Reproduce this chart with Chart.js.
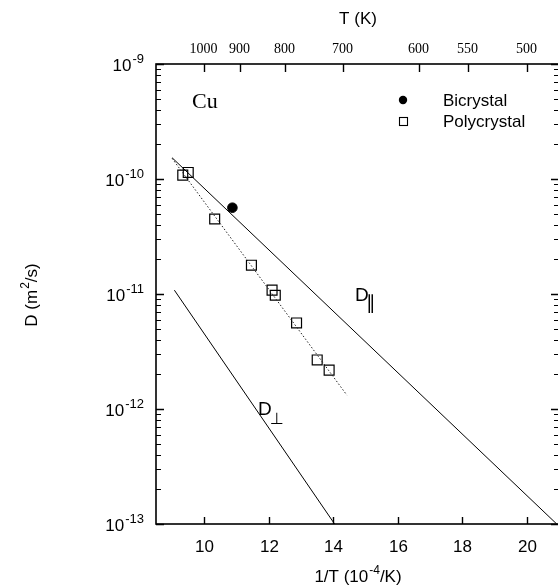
<!DOCTYPE html>
<html>
<head>
<meta charset="utf-8">
<script src="https://cdn.jsdelivr.net/npm/chart.js@4/dist/chart.umd.min.js"></script>
<style>
  html, body { margin: 0; padding: 0; background: #fff; overflow: hidden; }
  canvas { display: block; }
</style>
</head>
<body>
<canvas id="chart" width="570" height="588"></canvas>
<script>
// --- Data (1/T in 10^-4/K, D in m^2/s) ---
const polyX = [9.33, 9.50, 10.32, 11.46, 12.10, 12.20, 12.86, 13.50, 13.87];
const polyD = [1.08e-10, 1.14e-10, 4.49e-11, 1.78e-11, 1.08e-11, 9.75e-12, 5.6e-12, 2.67e-12, 2.18e-12];
const biX = [10.87];
const biD = [5.63e-11];
const fitX = [9.0, 14.42];
const fitD = [1.51e-10, 1.32e-12];
const dParX = [9.0, 20.93];
const dParD = [1.53e-10, 1.0e-13];
const dPerpX = [9.07, 14.04];
const dPerpD = [1.08e-11, 1.0e-13];

const bottomTicks = [10, 12, 14, 16, 18, 20];
const topTicksT = [1000, 900, 800, 700, 600, 550, 500];
const decades = [-13, -12, -11, -10, -9];

const SANS = '"Liberation Sans", Arial, Helvetica, sans-serif';
const SERIF = '"Liberation Serif", "Times New Roman", serif';

function pts(xs, ys) {
    return xs.map((x, i) => ({ x: x, y: ys[i] }));
}

// draws "base" followed by a raised superscript, starting at x
function drawSup(ctx, base, sup, x, y, size, supSize, rise) {
    ctx.font = size + 'px ' + SANS;
    ctx.fillText(base, x, y);
    const w = ctx.measureText(base).width;
    ctx.font = supSize + 'px ' + SANS;
    ctx.fillText(sup, x + w + 1, y - rise);
    return w + 1 + ctx.measureText(sup).width;
}

const framePlugin = {
    id: 'frame',
    afterDraw(chart) {
        const ctx = chart.ctx;
        const xs = chart.scales.x;
        const ys = chart.scales.y;
        const a = chart.chartArea;
        ctx.save();
        ctx.strokeStyle = '#000';
        ctx.fillStyle = '#000';

        // frame
        ctx.lineWidth = 1.6;
        ctx.strokeRect(a.left, a.top, a.right - a.left, a.bottom - a.top);

        // bottom ticks + labels
        ctx.lineWidth = 1.4;
        ctx.textAlign = 'center';
        ctx.textBaseline = 'alphabetic';
        ctx.font = '17px ' + SANS;
        bottomTicks.forEach(v => {
            const px = Math.round(xs.getPixelForValue(v)) + 0.5;
            ctx.beginPath();
            ctx.moveTo(px, a.bottom);
            ctx.lineTo(px, a.bottom - 7);
            ctx.stroke();
            ctx.fillText(String(v), px, 552);
        });

        // top ticks (temperature) + labels
        ctx.font = '14px ' + SERIF;
        topTicksT.forEach(T => {
            const px = Math.round(xs.getPixelForValue(1e4 / T)) + 0.5;
            ctx.beginPath();
            ctx.moveTo(px, a.top);
            ctx.lineTo(px, a.top + 8);
            ctx.stroke();
            ctx.fillText(String(T), px - 1, 53);
        });

        // y ticks (major + minor), both sides
        decades.forEach(n => {
            for (let k = 1; k <= 9; k++) {
                if (n === -9 && k > 1) break;
                const py = Math.round(ys.getPixelForValue(k * Math.pow(10, n))) + 0.5;
                const len = k === 1 ? 8 : 5;
                ctx.lineWidth = k === 1 ? 1.4 : 1.1;
                ctx.beginPath();
                ctx.moveTo(a.left, py);
                ctx.lineTo(a.left + len, py);
                ctx.moveTo(a.right, py);
                ctx.lineTo(a.right - len, py);
                ctx.stroke();
            }
            // label 10^n, right-aligned
            const py = ys.getPixelForValue(Math.pow(10, n));
            ctx.textAlign = 'left';
            ctx.font = '13px ' + SANS;
            const supW = ctx.measureText(String(n)).width;
            ctx.font = '17px ' + SANS;
            const baseW = ctx.measureText('10').width;
            const x0 = 144 - supW - baseW - 1;
            drawSup(ctx, '10', String(n), x0, py + 7, 17, 13, 8);
        });

        // axis titles
        ctx.textAlign = 'left';
        ctx.font = '17px ' + SANS;
        const tkW = ctx.measureText('T (K)').width;
        ctx.fillText('T (K)', 358 - tkW / 2, 24);

        // bottom title: 1/T (10^-4/K)
        ctx.font = '17px ' + SANS;
        const p1 = '1/T (10', p2 = '/K)';
        const w1 = ctx.measureText(p1).width, w3 = ctx.measureText(p2).width;
        ctx.font = '12px ' + SANS;
        const w2 = ctx.measureText('-4').width;
        let bx = 358 - (w1 + w2 + w3 + 1) / 2;
        bx += drawSup(ctx, p1, '-4', bx, 582, 17, 12, 8);
        ctx.font = '17px ' + SANS;
        ctx.fillText(p2, bx, 582);

        // left title rotated: D (m^2/s)
        ctx.save();
        ctx.translate(37, 295);
        ctx.rotate(-Math.PI / 2);
        ctx.font = '17px ' + SANS;
        const q1 = 'D (m', q3 = '/s)';
        const v1 = ctx.measureText(q1).width, v3 = ctx.measureText(q3).width;
        ctx.font = '12px ' + SANS;
        const v2 = ctx.measureText('2').width;
        let lx = -(v1 + v2 + v3 + 1) / 2;
        lx += drawSup(ctx, q1, '2', lx, 0, 17, 12, 8);
        ctx.font = '17px ' + SANS;
        ctx.fillText(q3, lx, 0);
        ctx.restore();

        // Cu label
        ctx.font = '22px ' + SERIF;
        ctx.fillText('Cu', 192, 108);

        // D parallel / D perpendicular labels
        ctx.font = '19px ' + SANS;
        ctx.fillText('D', 355, 301);
        ctx.fillText('D', 258, 415);
        ctx.font = '19px "DejaVu Sans", sans-serif';
        ctx.fillText('\u2225', 366, 309);
        ctx.font = '16px "DejaVu Sans", sans-serif';
        ctx.fillText('\u22A5', 270, 424);

        // legend
        ctx.font = '17px ' + SANS;
        ctx.beginPath();
        ctx.arc(403, 100, 4.2, 0, Math.PI * 2);
        ctx.fill();
        ctx.fillText('Bicrystal', 443, 106);
        ctx.lineWidth = 1.1;
        ctx.strokeRect(399.5, 117.5, 8, 8);
        ctx.fillText('Polycrystal', 443, 127);

        ctx.restore();
    }
};

new Chart(document.getElementById('chart'), {
    type: 'scatter',
    data: {
        datasets: [
            {
                label: 'D parallel',
                data: pts(dParX, dParD),
                showLine: true,
                borderColor: '#000',
                borderWidth: 1,
                pointRadius: 0
            },
            {
                label: 'D perpendicular',
                data: pts(dPerpX, dPerpD),
                showLine: true,
                borderColor: '#000',
                borderWidth: 1,
                pointRadius: 0
            },
            {
                label: 'Fit',
                data: pts(fitX, fitD),
                showLine: true,
                borderColor: '#222',
                borderWidth: 1,
                borderDash: [1.5, 2],
                pointRadius: 0
            },
            {
                label: 'Polycrystal',
                data: pts(polyX, polyD),
                showLine: false,
                pointStyle: 'rect',
                pointRadius: 7,
                borderColor: '#000',
                borderWidth: 1.2,
                backgroundColor: 'rgba(0,0,0,0)'
            },
            {
                label: 'Bicrystal',
                data: pts(biX, biD),
                showLine: false,
                pointStyle: 'circle',
                pointRadius: 4.8,
                borderColor: '#000',
                backgroundColor: '#000'
            }
        ]
    },
    options: {
        responsive: false,
        animation: false,
        layout: { padding: { left: 156, top: 64, right: 11, bottom: 64 } },
        plugins: { legend: { display: false }, tooltip: { enabled: false } },
        scales: {
            x: { type: 'linear', min: 8.5, max: 21, display: false },
            y: { type: 'logarithmic', min: 1e-13, max: 1e-9, display: false }
        }
    },
    plugins: [framePlugin]
});
</script>
</body>
</html>
